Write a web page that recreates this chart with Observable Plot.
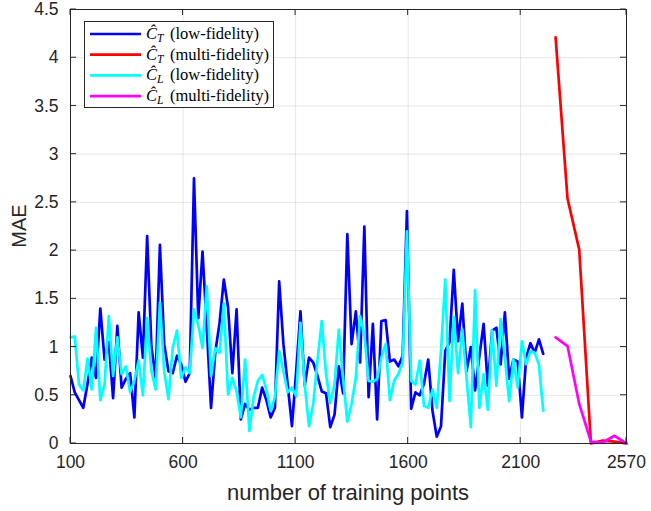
<!DOCTYPE html>
<html><head><meta charset="utf-8">
<script src="https://cdn.jsdelivr.net/npm/d3@7"></script>
<script src="https://cdn.jsdelivr.net/npm/@observablehq/plot@0.6"></script>
<style>html,body{margin:0;padding:0;background:#fff} svg{display:block}</style>
</head><body><div id="chart"></div>
<script>
// Low-fidelity series: x from 100 to 2200, evenly spaced samples
const lowStart = 100, lowEnd = 2200;
const ctLow = [0.70,0.53,0.45,0.37,0.62,0.89,0.68,1.40,0.87,1.05,0.47,1.22,0.58,0.67,0.73,0.27,1.36,0.89,2.15,
  1.00,0.68,2.06,1.03,0.75,0.73,0.91,0.82,0.64,0.73,2.75,1.30,1.99,1.20,0.37,0.95,1.25,1.70,
  1.41,0.73,1.39,0.25,0.41,0.35,0.37,0.37,0.58,0.45,0.27,0.37,1.68,1.03,0.61,0.18,0.75,1.37,
  0.60,0.89,0.84,0.70,0.54,0.52,0.17,0.30,0.80,0.52,2.17,1.03,1.37,0.84,2.25,0.48,1.24,0.25,1.27,
  1.28,0.85,0.87,0.80,0.91,2.41,0.36,0.53,0.50,0.62,0.87,0.34,0.07,0.18,0.96,1.05,1.80,1.06,
  1.45,0.75,1.00,0.55,0.90,1.24,0.60,1.17,1.20,0.82,1.36,0.67,0.87,0.85,0.27,0.89,1.04,0.94,1.08,0.93];
const clLow = [1.10,1.11,0.61,0.55,0.88,0.56,1.20,0.45,0.61,1.32,0.70,1.10,0.72,0.80,0.53,0.65,0.86,0.50,1.30,
  0.75,0.56,1.46,0.75,0.46,0.99,1.17,0.68,0.79,0.73,1.39,1.23,0.99,1.63,0.70,0.99,0.94,1.45,
  0.51,0.68,0.54,0.27,0.87,0.13,0.48,0.65,0.71,0.56,0.34,0.48,0.96,0.75,0.53,0.58,0.49,1.25,
  0.61,0.18,0.41,0.86,1.27,0.72,0.42,0.61,1.18,0.68,0.23,0.41,0.68,1.32,1.13,0.65,0.64,0.67,0.89,
  1.03,0.45,0.65,0.72,0.84,2.20,0.65,0.61,0.86,0.39,0.37,0.56,0.37,0.96,1.70,0.44,1.31,0.73,
  1.18,0.68,0.17,1.59,0.37,0.72,0.35,1.17,0.60,1.29,0.89,0.44,0.87,0.58,1.06,0.82,0.96,0.94,0.82,0.34];
// Multi-fidelity series
const multiX = [2255, 2308, 2360, 2412, 2464, 2517, 2570];
const ctMulti = [4.21, 2.54, 2.01, 0.00, 0.03, 0.02, 0.00];
const clMulti = [1.10, 1.01, 0.41, 0.02, 0.01, 0.08, 0.00];
// Axes
const xTicks = [100, 600, 1100, 1600, 2100, 2570];
const yTicks = [0, 0.5, 1, 1.5, 2, 2.5, 3, 3.5, 4, 4.5];
const seriesNames = ["low-fidelity", "multi-fidelity", "low-fidelity", "multi-fidelity"];
const seriesSubs = ["T", "T", "L", "L"];
const seriesColors = ["#0000ff", "#ff0000", "#00ffff", "#ff00ff"];

const lowStep = (lowEnd - lowStart) / (ctLow.length - 1);
const toRows = (xs, ys) => ys.map((y, i) => ({x: xs[i], y}));
const lowX = ctLow.map((_, i) => lowStart + i * lowStep);

const W = 651, H = 511;
const sans = "'Liberation Sans', Arial, Helvetica, sans-serif";
const plot = Plot.plot({
  width: W, height: H,
  marginLeft: 70, marginRight: 25, marginTop: 9, marginBottom: 68,
  x: {domain: [100, 2570]},
  y: {domain: [0, 4.5]},
  style: {fontFamily: sans, fontSize: "17.5px", color: "#262626", background: "#fff", overflow: "visible"},
  marks: [
    Plot.gridX(xTicks, {stroke: "#000", strokeOpacity: 0.1, strokeWidth: 1}),
    Plot.gridY(yTicks, {stroke: "#000", strokeOpacity: 0.1, strokeWidth: 1}),
    Plot.axisX(xTicks, {tickSize: 0, tickPadding: 12, label: null, fontSize: 17.5, tickFormat: d => String(d)}),
    Plot.axisY(yTicks, {tickSize: 0, tickPadding: 12, label: null, fontSize: 17.5, tickFormat: d => String(d)}),
    Plot.line(toRows(lowX, ctLow), {x: "x", y: "y", stroke: seriesColors[0], strokeWidth: 2.7}),
    Plot.line(toRows(multiX, ctMulti), {x: "x", y: "y", stroke: seriesColors[1], strokeWidth: 2.7}),
    Plot.line(toRows(lowX, clLow), {x: "x", y: "y", stroke: seriesColors[2], strokeWidth: 2.7}),
    Plot.line(toRows(multiX, clMulti), {x: "x", y: "y", stroke: seriesColors[3], strokeWidth: 2.7}),
    Plot.frame({stroke: "#262626", strokeWidth: 1})
  ]
});
document.getElementById("chart").appendChild(plot);

const sx = plot.scale("x"), sy = plot.scale("y");
const svg = d3.select(plot);
const x0 = sx.apply(100), x1 = sx.apply(2570), y0 = sy.apply(0), y1 = sy.apply(4.5);
const tl = 6;
const g = svg.append("g").attr("stroke", "#262626").attr("stroke-width", 1);
for (const t of xTicks) {
  const px = sx.apply(t);
  g.append("line").attr("x1", px).attr("x2", px).attr("y1", y0).attr("y2", y0 - tl);
  g.append("line").attr("x1", px).attr("x2", px).attr("y1", y1).attr("y2", y1 + tl);
}
for (const t of yTicks) {
  const py = sy.apply(t);
  g.append("line").attr("y1", py).attr("y2", py).attr("x1", x0).attr("x2", x0 + tl);
  g.append("line").attr("y1", py).attr("y2", py).attr("x1", x1).attr("x2", x1 - tl);
}
// Axis titles
svg.append("text").attr("x", (x0 + x1) / 2).attr("y", 500).attr("text-anchor", "middle")
  .attr("font-size", 22).attr("fill", "#262626").attr("font-family", sans)
  .text("number of training points");
svg.append("text").attr("transform", `translate(26,${(y0 + y1) / 2}) rotate(-90)`).attr("text-anchor", "middle")
  .attr("font-size", 20).attr("fill", "#262626").attr("font-family", sans)
  .text("MAE");
// Legend
const lg = svg.append("g");
lg.append("rect").attr("x", 84.5).attr("y", 21.5).attr("width", 189).attr("height", 86)
  .attr("fill", "#fff").attr("stroke", "#262626").attr("stroke-width", 1);
seriesNames.forEach((name, i) => {
  const yy = 34 + i * 20.7;
  lg.append("line").attr("x1", 90).attr("x2", 141).attr("y1", yy).attr("y2", yy)
    .attr("stroke", seriesColors[i]).attr("stroke-width", 2.7);
  const t = lg.append("text").attr("x", 146).attr("y", yy + 5).attr("text-anchor", "start")
    .attr("font-family", "'Liberation Serif', 'DejaVu Serif', serif").attr("font-size", 16.5).attr("fill", "#000");
  t.append("tspan").attr("font-style", "italic").text("Ĉ");
  t.append("tspan").attr("font-style", "italic").attr("font-size", 11.5).attr("dy", 3).text(seriesSubs[i]);
  t.append("tspan").attr("dy", -3).attr("x", 170).text(`(${name})`);
});
</script></body></html>
